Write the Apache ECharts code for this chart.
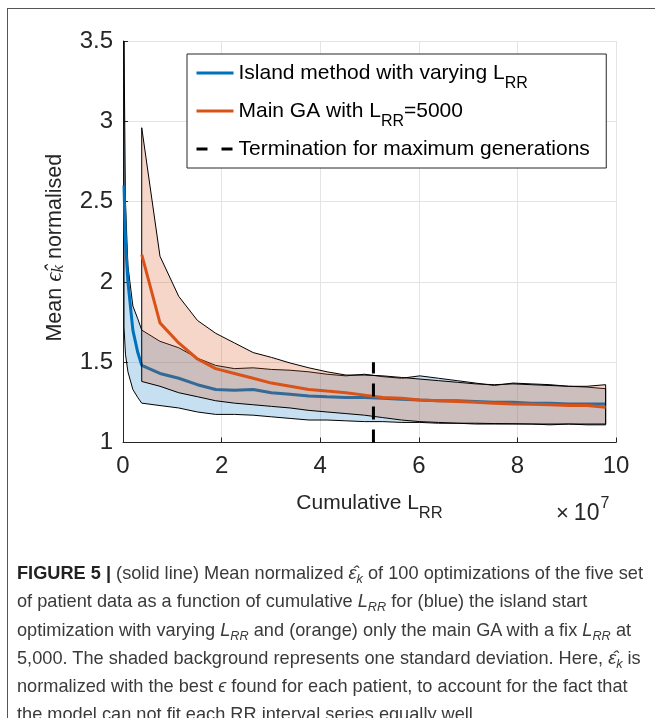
<!DOCTYPE html>
<html><head><meta charset="utf-8">
<script src="https://cdn.jsdelivr.net/npm/echarts@6/dist/echarts.min.js"></script>
<style>
html,body{margin:0;padding:0;background:#fff;}
#wrap{position:relative;width:655px;height:718px;overflow:hidden;background:#fff;}
#chart{position:absolute;left:0;top:0;width:655px;height:718px;}
#frame{position:absolute;left:7px;top:8px;width:700px;height:800px;border-left:1.5px solid #555;border-top:1.5px solid #555;pointer-events:none;}
#caption{position:absolute;left:17px;top:559px;font-family:"Liberation Sans",Arial,sans-serif;font-size:19px;line-height:28.3px;color:#3a3a3a;white-space:nowrap;transform-origin:0 0;}
#caption b{color:#222;}
#caption sub{font-size:0.7em;vertical-align:-0.3em;line-height:0;}
</style></head>
<body>
<div id="wrap">
<div id="chart"></div>
<div id="frame"></div>
<div id="caption"><span id="cap1"><b>FIGURE 5 |</b> (solid line) Mean normalized <i>ε̂<sub>k</sub></i> of 100 optimizations of the five set</span><br>of patient data as a function of cumulative <i>L<sub>RR</sub></i> for (blue) the island start<br>optimization with varying <i>L<sub>RR</sub></i> and (orange) only the main GA with a fix <i>L<sub>RR</sub></i> at<br>5,000. The shaded background represents one standard deviation. Here, <i>ε̂<sub>k</sub></i> is<br>normalized with the best <i>ϵ</i> found for each patient, to account for the fact that<br>the model can not fit each RR interval series equally well.</div>
</div>
<script>
// ---- data (x in units of 1e7 cumulative L_RR) ----
const islandX = [0.02, 0.05, 0.1, 0.2, 0.3, 0.38, 0.75, 1.13, 1.51, 1.88, 2.26, 2.64, 3.01, 3.39, 3.77, 4.14, 4.52, 4.9, 5.27, 5.65, 6.02, 6.4, 6.78, 7.15, 7.53, 7.91, 8.28, 8.66, 9.04, 9.41, 9.79];
const islandMean = [2.6, 2.25, 2.0, 1.7, 1.56, 1.48, 1.43, 1.40, 1.36, 1.33, 1.325, 1.33, 1.31, 1.30, 1.29, 1.285, 1.28, 1.28, 1.275, 1.27, 1.265, 1.26, 1.26, 1.255, 1.25, 1.25, 1.245, 1.245, 1.24, 1.24, 1.24];
const islandUpper = [3.5, 2.5, 2.1, 1.85, 1.77, 1.70, 1.63, 1.59, 1.525, 1.48, 1.46, 1.465, 1.455, 1.45, 1.44, 1.425, 1.415, 1.425, 1.41, 1.40, 1.415, 1.40, 1.385, 1.37, 1.355, 1.37, 1.365, 1.36, 1.35, 1.345, 1.335];
const islandLower = [1.72, 1.55, 1.44, 1.33, 1.28, 1.245, 1.23, 1.215, 1.19, 1.175, 1.175, 1.17, 1.16, 1.15, 1.14, 1.14, 1.135, 1.13, 1.13, 1.125, 1.125, 1.12, 1.12, 1.115, 1.115, 1.115, 1.115, 1.11, 1.115, 1.11, 1.11];

const gaX = [0.38, 0.75, 1.13, 1.51, 1.88, 2.26, 2.64, 3.01, 3.39, 3.77, 4.14, 4.52, 4.9, 5.27, 5.65, 6.02, 6.4, 6.78, 7.15, 7.53, 7.91, 8.28, 8.66, 9.04, 9.41, 9.79];
const gaMean = [2.17, 1.745, 1.62, 1.52, 1.46, 1.43, 1.40, 1.37, 1.35, 1.33, 1.32, 1.31, 1.295, 1.28, 1.275, 1.265, 1.26, 1.255, 1.25, 1.245, 1.24, 1.238, 1.235, 1.23, 1.23, 1.22];
const gaUpper = [2.96, 2.16, 1.91, 1.76, 1.68, 1.62, 1.56, 1.53, 1.495, 1.465, 1.44, 1.42, 1.42, 1.415, 1.405, 1.395, 1.385, 1.375, 1.365, 1.36, 1.365, 1.36, 1.355, 1.35, 1.35, 1.36];
const gaLower = [1.38, 1.35, 1.31, 1.285, 1.26, 1.245, 1.235, 1.225, 1.215, 1.20, 1.19, 1.18, 1.17, 1.155, 1.14, 1.13, 1.125, 1.12, 1.12, 1.118, 1.117, 1.115, 1.115, 1.115, 1.115, 1.115];

const terminationX = [5.08, 5.08];
const terminationY = [1.0, 1.5];

const xTicks = {min: 0, max: 10, interval: 2};
const yTicks = {min: 1, max: 3.5, interval: 0.5};

const seriesNames = ['Island method with varying L_RR', 'Main GA with L_RR=5000', 'Termination for maximum generations'];
const legendRich = ['{n|Island method with varying L}{s|RR}', '{n|Main GA with L}{s|RR}{n|=5000}', '{n|Termination for maximum generations}{s| }'];

// ---- caption fit (condensed face emulation) ----
(function () {
  const cap = document.getElementById('caption');
  const w = document.getElementById('cap1').getBoundingClientRect().width;
  if (w > 0) cap.style.transform = 'scaleX(' + (626 / w) + ')';
})();

// ---- chart ----
const FONT = '"Liberation Sans", Arial, sans-serif';
const AX = '#262626';
const chart = echarts.init(document.getElementById('chart'), null, {renderer: 'canvas'});

function band(name, xs, lo, hi, fill, z) {
  return {
    type: 'custom', name: name, z: z, silent: true,
    data: xs.map((x, i) => [x, lo[i], hi[i]]),
    encode: {x: 0, y: [1, 2]},
    renderItem: function (params, api) {
      if (params.dataIndex !== 0) return null;
      const pts = [];
      for (let i = 0; i < xs.length; i++) pts.push(api.coord([xs[i], hi[i]]));
      for (let i = xs.length - 1; i >= 0; i--) pts.push(api.coord([xs[i], lo[i]]));
      return {type: 'polygon', shape: {points: pts}, style: {fill: fill, stroke: '#000', lineWidth: 1, lineJoin: 'round'}};
    }
  };
}

const option = {
  animation: false,
  backgroundColor: '#fff',
  textStyle: {fontFamily: FONT},
  grid: {left: 123, top: 41, width: 493, height: 401.5},
  xAxis: {
    type: 'value', min: xTicks.min, max: xTicks.max, interval: xTicks.interval,
    axisLine: {show: true, lineStyle: {color: AX, width: 1}},
    axisTick: {show: true, inside: true, length: 5, lineStyle: {color: AX}},
    axisLabel: {fontSize: 24, color: AX, margin: 12, fontFamily: FONT},
    splitLine: {show: true, lineStyle: {color: '#e4e4e4', width: 1}},
    name: '{n|Cumulative L}{s|RR}', nameLocation: 'middle', nameGap: 40,
    nameTextStyle: {rich: {
      n: {fontSize: 21, color: AX, fontFamily: FONT, lineHeight: 24},
      s: {fontSize: 16.5, color: AX, fontFamily: FONT, lineHeight: 16, padding: [22, 0, 0, 0]}
    }}
  },
  yAxis: {
    type: 'value', min: yTicks.min, max: yTicks.max, interval: yTicks.interval,
    axisLine: {show: true, lineStyle: {color: AX, width: 1}},
    axisTick: {show: true, inside: true, length: 5, lineStyle: {color: AX}},
    axisLabel: {fontSize: 24, color: AX, margin: 10, fontFamily: FONT},
    splitLine: {show: true, lineStyle: {color: '#e4e4e4', width: 1}},
    name: '{n|Mean }{e|ϵ̂}{k|k}{n| normalised}', nameLocation: 'middle', nameGap: 55,
    nameTextStyle: {padding: [0, 12, 0, 0], rich: {
      n: {fontSize: 21.5, color: AX, fontFamily: FONT, lineHeight: 26},
      e: {fontSize: 23, color: AX, fontFamily: '"Liberation Serif", serif', fontStyle: 'italic', lineHeight: 26},
      k: {fontSize: 17, color: AX, fontFamily: '"Liberation Serif", serif', fontStyle: 'italic', lineHeight: 16, padding: [8, 0, 0, 0]}
    }}
  },
  legend: {
    orient: 'vertical', left: 187, top: 54, padding: [0, 12, 0, 8], itemGap: 0,
    itemWidth: 37, itemHeight: 14,
    borderColor: AX, borderWidth: 1, backgroundColor: '#fff',
    itemStyle: {opacity: 0},
    textStyle: {fontSize: 21, color: '#000', fontFamily: FONT, rich: {
      n: {fontSize: 21, color: '#000', fontFamily: FONT, lineHeight: 38},
      s: {fontSize: 16, color: '#000', fontFamily: FONT, lineHeight: 16, padding: [22, 0, 0, 0]}
    }},
    data: [
      {name: seriesNames[0], lineStyle: {width: 3}, itemStyle: {opacity: 0}},
      {name: seriesNames[1], lineStyle: {width: 3}, itemStyle: {opacity: 0}},
      {name: seriesNames[2], lineStyle: {type: [11, 14], width: 3, color: '#000'}, itemStyle: {opacity: 0}}
    ],
    formatter: function (name) { return legendRich[seriesNames.indexOf(name)]; }
  },
  series: [
    band('islandBand', islandX, islandLower, islandUpper, 'rgba(0,114,189,0.22)', 1),
    {
      type: 'line', name: seriesNames[0], z: 2, symbol: 'none', showSymbol: false,
      data: islandX.map((x, i) => [x, islandMean[i]]),
      lineStyle: {color: '#0072BD', width: 3}, itemStyle: {color: '#0072BD'}
    },
    band('gaBand', gaX, gaLower, gaUpper, 'rgba(217,83,25,0.24)', 3),
    {
      type: 'line', name: seriesNames[1], z: 4, symbol: 'none', showSymbol: false,
      data: gaX.map((x, i) => [x, gaMean[i]]),
      lineStyle: {color: '#D95319', width: 3}, itemStyle: {color: '#D95319'}
    },
    {
      type: 'line', name: seriesNames[2], z: 5, symbol: 'none', showSymbol: false,
      data: terminationX.map((x, i) => [x, terminationY[i]]),
      lineStyle: {color: '#000', width: 3, type: [13, 10]}, itemStyle: {color: '#000'}
    }
  ],
  graphic: [{
    type: 'text', x: 556, y: 514, z: 10,
    style: {
      text: '{x|×}{m|10}{p|7}', verticalAlign: 'middle', align: 'left',
      rich: {
        x: {fontSize: 22, fill: AX, color: AX, fontFamily: FONT, lineHeight: 26},
        m: {fontSize: 23, fill: AX, color: AX, fontFamily: FONT, lineHeight: 26, padding: [0, 1, 0, 5]},
        p: {fontSize: 16, fill: AX, color: AX, fontFamily: FONT, lineHeight: 16, padding: [0, 0, 21, 0]}
      }
    }
  }]
};
chart.setOption(option);
</script>
</body></html>
